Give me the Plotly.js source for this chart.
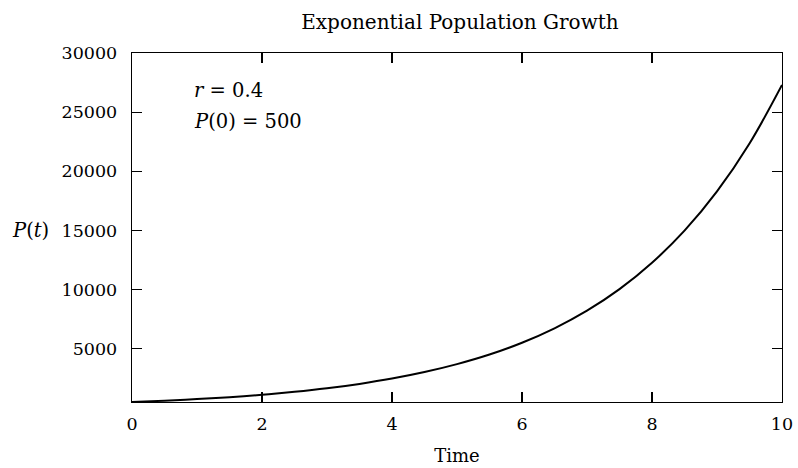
<!DOCTYPE html>
<html>
<head>
<meta charset="utf-8">
<script src="https://cdn.plot.ly/plotly-3.0.1.min.js"></script>
<style>html,body{margin:0;padding:0;background:#fff;}#chart{width:798px;height:468px;}</style>
</head>
<body>
<div id="chart"></div>
<script>
var timeValues = [0, 0.5, 1, 1.5, 2, 2.5, 3, 3.5, 4, 4.5, 5, 5.5, 6, 6.5, 7, 7.5, 8, 8.5, 9, 9.5, 10];
var populationValues = [500, 610, 745, 910, 1110, 1360, 1660, 2030, 2480, 3030, 3700, 4510, 5510, 6730, 8220, 10040, 12270, 14980, 18300, 22350, 27300];
var xTicks = [0, 2, 4, 6, 8, 10];
var yTicks = [5000, 10000, 15000, 20000, 25000, 30000];

var font = "DejaVu Serif, serif";

var trace = {
  x: timeValues, y: populationValues, type: 'scatter', mode: 'lines',
  line: {color: '#000', width: 2, shape: 'spline'}, hoverinfo: 'skip'
};

var axisCommon = {
  showgrid: false, zeroline: false, showline: true, linecolor: '#000', linewidth: 1.3,
  mirror: 'ticks', ticks: 'inside', ticklen: 10, tickwidth: 1.3, tickcolor: '#000',
  tickfont: {family: font, size: 17.5, color: '#000'}
};

var layout = {
  width: 798, height: 468,
  margin: {l: 132, r: 16, t: 53, b: 66},
  paper_bgcolor: '#fff', plot_bgcolor: '#fff',
  showlegend: false,
  title: {text: 'Exponential Population Growth', font: {family: font, size: 20, color: '#000'}, x: 0.5764, xanchor: 'center', y: 0.952, yanchor: 'middle'},
  xaxis: Object.assign({}, axisCommon, {range: [0, 10], tickvals: xTicks, ticktext: xTicks.map(String), ticklabelstandoff: 6,
    title: {text: 'Time', font: {family: font, size: 18, color: '#000'}, standoff: 16}}),
  yaxis: Object.assign({}, axisCommon, {range: [500, 30000], tickvals: yTicks, ticktext: yTicks.map(String), ticklabelstandoff: 10}),
  annotations: [
    {xref: 'paper', yref: 'paper', x: -0.187, y: 0.49, xanchor: 'left', yanchor: 'middle', showarrow: false,
     text: '<i>P</i>(<i>t</i>)', font: {family: font, size: 19.5, color: '#000'}},
    {xref: 'paper', yref: 'paper', x: 0.093, y: 0.893, xanchor: 'left', yanchor: 'middle', showarrow: false,
     text: '<i>r</i> = 0.4', font: {family: font, size: 19.5, color: '#000'}},
    {xref: 'paper', yref: 'paper', x: 0.093, y: 0.804, xanchor: 'left', yanchor: 'middle', showarrow: false,
     text: '<i>P</i>(0) = 500', font: {family: font, size: 19.5, color: '#000'}}
  ]
};

Plotly.newPlot('chart', [trace], layout, {staticPlot: true, displayModeBar: false});
</script>
</body>
</html>
